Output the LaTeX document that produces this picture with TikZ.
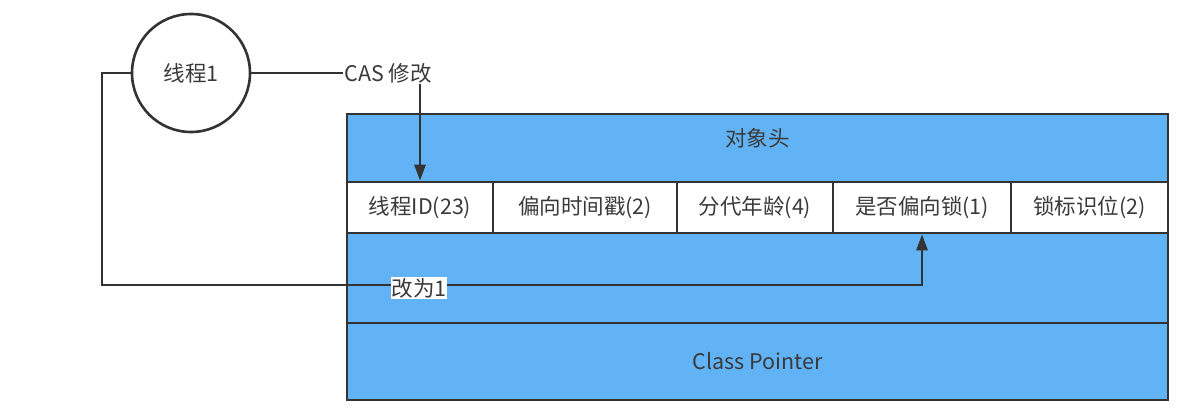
\documentclass[tikz,border=0pt]{standalone}
\usepackage{fontspec}
\setmainfont{Noto Sans CJK SC}
\usetikzlibrary{arrows.meta}
\definecolor{fillblue}{HTML}{62B3F5}
\definecolor{edge}{HTML}{333333}
\definecolor{txt}{HTML}{3A3A3A}
\begin{document}
\begin{tikzpicture}[x=1pt,y=-1pt,
  every node/.style={font=\fontsize{21.5}{25}\selectfont, text=txt},
  ln/.style={draw=edge, line width=2.6pt},
  arr/.style={ln, -{Triangle[length=16pt,width=11pt]}},
  band/.style={draw=edge, line width=2.6pt, fill=fillblue, inner sep=0pt},
  cellbox/.style={draw=edge, line width=2.6pt, fill=white, inner sep=0pt, minimum height=51pt}
]
\useasboundingbox (0,0) rectangle (1183,420);
% bands
\fill[fillblue] (347,114) rectangle (1168,400);
\node[band, minimum width=821pt, minimum height=68pt] (hdr) at (757.5,148) {};
\node at (757.5,138) (hdrtext) {对象头};
\node[band, minimum width=821pt, minimum height=90pt] (mid) at (757.5,278) {};
\node[band, minimum width=821pt, minimum height=77pt] (cp) at (757.5,361.5) {Class Pointer};
% cells
\node[cellbox, minimum width=146pt] (c1) at (420,207.5) {线程ID(23)};
\node[cellbox, minimum width=184pt] (c2) at (585,207.5) {偏向时间戳(2)};
\node[cellbox, minimum width=156pt] (c3) at (755,207.5) {分代年龄(4)};
\node[cellbox, minimum width=178pt] (c4) at (922,207.5) {是否偏向锁(1)};
\node[cellbox, minimum width=157pt] (c5) at (1089.5,207.5) {锁标识位(2)};
% thread
\node[ln, circle, minimum size=118pt, inner sep=0pt] (t1) at (191,73) {线程1};
\node[inner sep=1pt] (cas) at (388,73) {CAS 修改};
\draw[ln] (t1.east) -- (cas.west);
\draw[arr] (c1.north |- cas.south) -- (c1.north);
\coordinate (k1) at (102,73);
\coordinate (k2) at (102,285);
\draw[arr] (t1.west) -- (k1) -- (k2) -- (k2 -| c4.south) -- (c4.south);
\node[fill=white, inner sep=1pt] (lbl) at (419,288) {改为1};
\end{tikzpicture}
\end{document}
